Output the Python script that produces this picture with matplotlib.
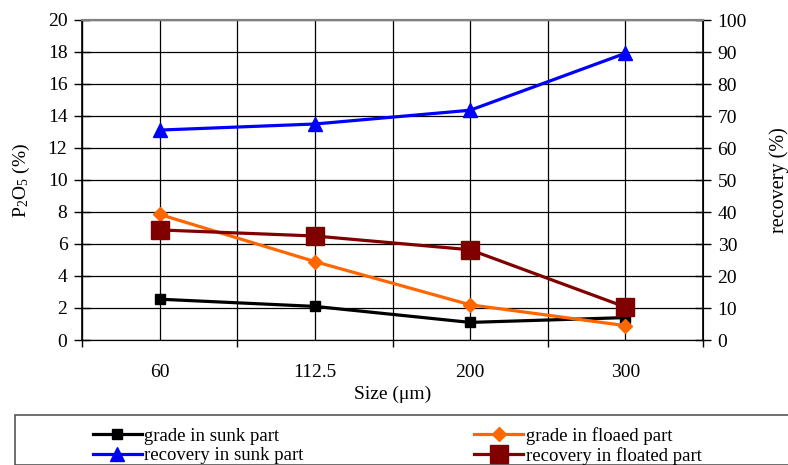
import matplotlib.pyplot as plt
from matplotlib.patches import Rectangle

plt.rcParams['font.family'] = ['Liberation Serif', 'DejaVu Serif']
plt.rcParams['mathtext.fontset'] = 'custom'
plt.rcParams['mathtext.rm'] = 'Liberation Serif'

# Data
sizes = ["60", "112.5", "200", "300"]
grade_sunk = [2.55, 2.1, 1.1, 1.4]
grade_floated = [7.85, 4.9, 2.2, 0.9]
recovery_sunk = [65.6, 67.5, 71.8, 89.6]
recovery_floated = [34.4, 32.5, 28.2, 10.3]

x = list(range(len(sizes)))

fig = plt.figure(figsize=(7.88, 4.65), dpi=100)
ax = fig.add_axes([82 / 788, 1 - 340 / 465, (703 - 82) / 788, 320 / 465])
ax2 = ax.twinx()

# left axis series
l1, = ax.plot(x, grade_sunk, color="black", lw=2.3, marker="s", ms=6.5,
              label="grade in sunk part", zorder=5)
l2, = ax.plot(x, grade_floated, color="#ff6600", lw=2.3, marker="D", ms=7,
              label="grade in floaed part", zorder=5)

# right axis series
l3, = ax2.plot(x, recovery_sunk, color="#0000ff", lw=2.3, marker="^", ms=10,
               label="recovery in sunk part", zorder=5)
l4, = ax2.plot(x, recovery_floated, color="#800000", lw=2.3, marker="s", ms=13,
               label="recovery in floated part", zorder=5)

ax.set_xlim(-0.5, len(sizes) - 0.5)
ax.set_ylim(0, 20)
ax2.set_ylim(0, 100)
ax.set_yticks(range(0, 21, 2))
ax2.set_yticks(range(0, 101, 10))

# category boundaries as major ticks, labels at centres
ax.set_xticks([i - 0.5 for i in range(len(sizes) + 1)])
ax.set_xticklabels([])
ax.set_xticks(x, minor=True)
ax.set_xticklabels(sizes, minor=True)
ax.tick_params(axis="x", which="minor", length=0, pad=17, labelsize=14)
ax.tick_params(axis="x", which="major", direction="out", length=5, width=1)
ax.tick_params(axis="y", direction="inout", length=11, width=1, labelsize=14, pad=5)
ax2.tick_params(axis="y", direction="inout", length=11, width=1, labelsize=14, pad=5)

ax.grid(True, which="both", axis="x", color="black", lw=0.9)
ax.grid(True, which="major", axis="y", color="black", lw=0.9)
ax.set_axisbelow(True)

for a in (ax, ax2):
    a.spines["top"].set_color("#808080")
    a.spines["top"].set_linewidth(1.5)
ax.spines["left"].set_linewidth(1.2)
ax2.spines["right"].set_linewidth(1.2)

ax.set_xlabel("Size (μm)", fontsize=14, labelpad=4)
ax.set_ylabel(r"$\mathrm{P_2O_5}$ (%)", fontsize=14, labelpad=11)
ax2.set_ylabel("recovery (%)", fontsize=14.5, labelpad=16)

# legend box below the chart
fig.patches.append(Rectangle((15 / 788, 0), 1.0, 50 / 465, transform=fig.transFigure,
                             fill=False, edgecolor="#555555", lw=1.2))
fig.legend(handles=[l1, l3, l2, l4], ncol=2, loc="upper left",
           bbox_to_anchor=(76 / 788, 1 - 410 / 465), frameon=False,
           fontsize=13.5, handlelength=2.6, handletextpad=0.15,
           columnspacing=9.1, labelspacing=0.12)

fig.savefig("out.png", dpi=100)
